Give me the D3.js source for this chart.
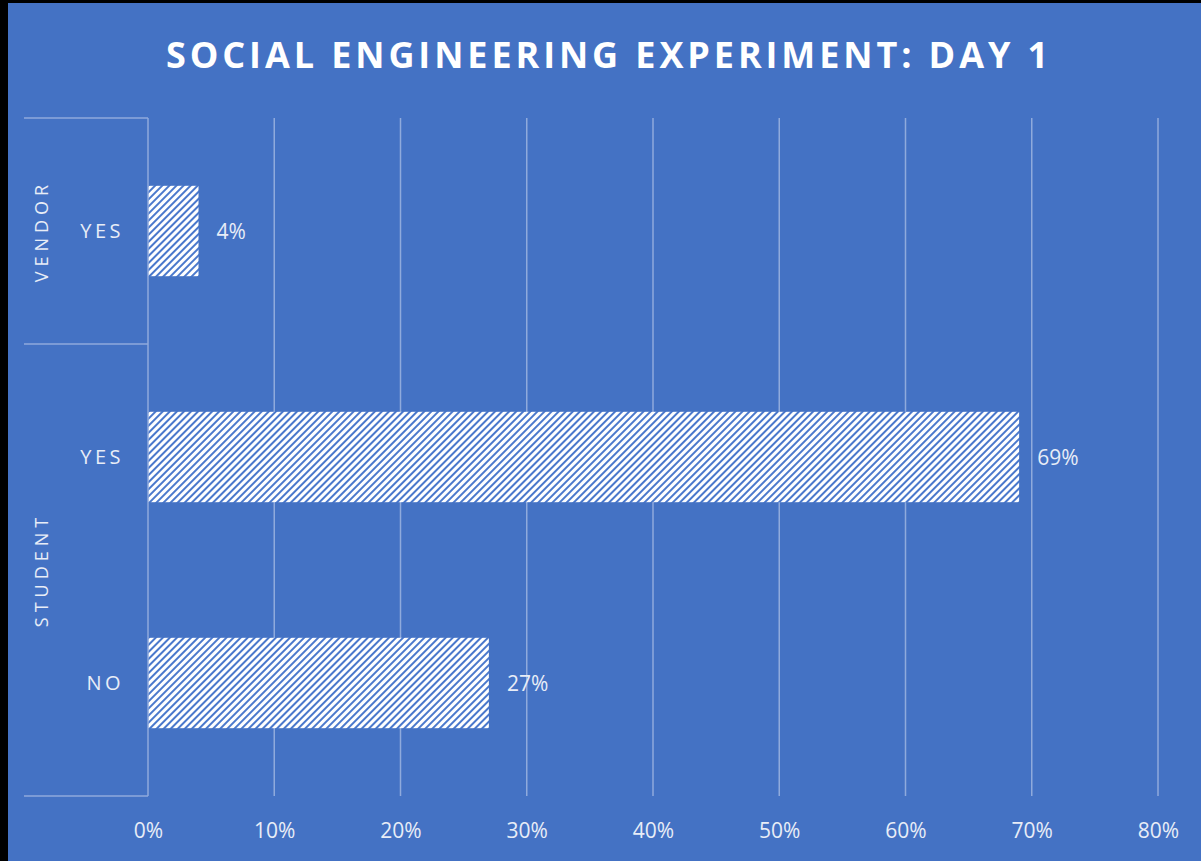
<!DOCTYPE html>
<html>
<head>
<meta charset="utf-8">
<style>
  html,body{margin:0;padding:0;background:#000;overflow:hidden;}
  svg{display:block;}
  text{font-family:"Open Sans","Noto Sans",sans-serif;}
</style>
</head>
<body>
<div id="chart"></div>
<script src="https://cdn.jsdelivr.net/npm/d3@7"></script>
<script>
const title = "SOCIAL ENGINEERING EXPERIMENT: DAY 1";
const groups = ["VENDOR", "STUDENT"];
const categories = ["VENDOR|YES", "STUDENT|YES", "STUDENT|NO"];
const catLabels = ["YES", "YES", "NO"];
const catGroups = ["VENDOR", "STUDENT", "STUDENT"];
const values = [0.04, 0.69, 0.27];
const ticks = [0, 0.1, 0.2, 0.3, 0.4, 0.5, 0.6, 0.7, 0.8];

const W = 1201, H = 861;
const bg = "#4472C4";
const gridCol = "#8faadc";
const textCol = "#e8edf7";

const svg = d3.select("#chart").append("svg")
    .attr("width", W).attr("height", H);

// black frame peeking on left/top
svg.append("rect").attr("x", 8).attr("y", 3).attr("width", W - 8).attr("height", H - 3).attr("fill", bg);

// dark upward diagonal hatch
const defs = svg.append("defs");
const pat = defs.append("pattern")
    .attr("id", "hatch")
    .attr("patternUnits", "userSpaceOnUse")
    .attr("width", 5).attr("height", 5)
    .attr("patternTransform", "rotate(45)");
pat.append("rect").attr("width", 5).attr("height", 5).attr("fill", "#ffffff");
pat.append("rect").attr("x", 0).attr("width", 2).attr("height", 5).attr("fill", "#4a78cc");

const m = {left: 148, right: 1158, top: 118, bottom: 796};

const x = d3.scaleLinear().domain([0, 0.8]).range([m.left, m.right]);
const y = d3.scaleBand().domain(categories).range([m.top, m.bottom]).paddingInner(0.6).paddingOuter(0.3);

// title
svg.append("text")
    .attr("x", 609).attr("y", 68)
    .attr("text-anchor", "middle")
    .attr("fill", "#ffffff")
    .attr("font-size", 36)
    .attr("font-weight", "bold")
    .attr("letter-spacing", 3.9)
    .text(title);

// gridlines
svg.append("g").selectAll("line")
    .data(ticks.slice(1))
    .enter().append("line")
    .attr("x1", d => x(d)).attr("x2", d => x(d))
    .attr("y1", m.top).attr("y2", m.bottom)
    .attr("stroke", gridCol).attr("stroke-width", 1.5);

// x axis tick labels
const xAxis = d3.axisBottom(x).tickValues(ticks).tickFormat(d3.format(".0%")).tickSize(0).tickPadding(0);
const gx = svg.append("g").attr("transform", `translate(0,${m.bottom})`).call(xAxis);
gx.select(".domain").remove();
gx.selectAll("text")
    .attr("y", 42)
    .attr("dy", 0)
    .attr("fill", textCol)
    .attr("font-size", 21)
    .attr("font-family", "'Open Sans','Noto Sans',sans-serif");

// bars
svg.append("g").selectAll("rect")
    .data(values)
    .enter().append("rect")
    .attr("x", x(0))
    .attr("y", (d, i) => y(categories[i]))
    .attr("width", d => x(d) - x(0))
    .attr("height", y.bandwidth())
    .attr("fill", "url(#hatch)");

// value labels
svg.append("g").selectAll("text")
    .data(values)
    .enter().append("text")
    .attr("x", d => x(d) + 18)
    .attr("y", (d, i) => y(categories[i]) + y.bandwidth() / 2 + 8)
    .attr("fill", textCol)
    .attr("font-size", 21)
    .text(d => d3.format(".0%")(d));

// category labels
svg.append("g").selectAll("text")
    .data(catLabels)
    .enter().append("text")
    .attr("x", 124)
    .attr("y", (d, i) => y(categories[i]) + y.bandwidth() / 2 + 7)
    .attr("text-anchor", "end")
    .attr("fill", textCol)
    .attr("font-size", 20)
    .attr("letter-spacing", 3.5)
    .text(d => d);

// group boundaries sit in the middle of the padding between bands
function edge(i) {
    if (i === 0) return m.top;
    if (i === categories.length) return m.bottom;
    return (y(categories[i - 1]) + y.bandwidth() + y(categories[i])) / 2;
}
const groupSpans = groups.map(g => {
    const idx = catGroups.map((c, i) => c === g ? i : -1).filter(i => i >= 0);
    return {g, y0: edge(idx[0]), y1: edge(idx[idx.length - 1] + 1)};
});
const bounds = groupSpans.map(s => s.y0).concat([m.bottom]);

// axis line + group separators
svg.append("line")
    .attr("x1", m.left).attr("x2", m.left)
    .attr("y1", m.top).attr("y2", m.bottom)
    .attr("stroke", gridCol).attr("stroke-width", 1.5);
svg.append("g").selectAll("line")
    .data(bounds)
    .enter().append("line")
    .attr("x1", 24).attr("x2", m.left)
    .attr("y1", d => d).attr("y2", d => d)
    .attr("stroke", gridCol).attr("stroke-width", 1.5);

// group labels
svg.append("g").selectAll("text")
    .data(groupSpans)
    .enter().append("text")
    .attr("transform", d => `translate(48,${(d.y0 + d.y1) / 2}) rotate(-90)`)
    .attr("text-anchor", "middle")
    .attr("fill", textCol)
    .attr("font-size", 18)
    .attr("letter-spacing", 5)
    .text(d => d.g);
</script>
</body>
</html>
